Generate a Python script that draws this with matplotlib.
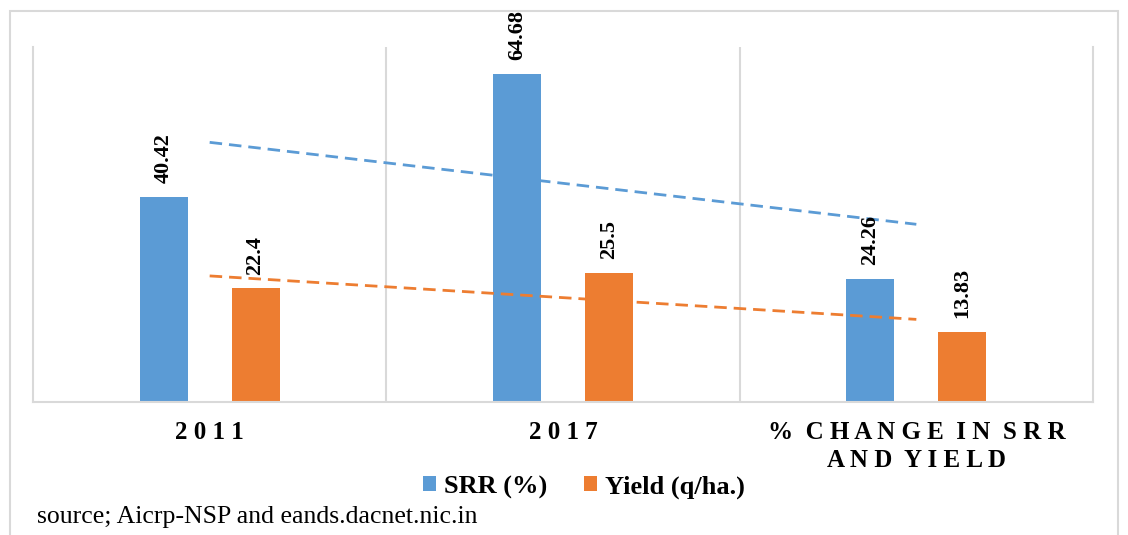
import numpy as np
import matplotlib.pyplot as plt
from matplotlib.patches import Rectangle

categories = ["2011", "2017", "% CHANGE IN SRR\nAND YIELD"]
srr = [40.42, 64.68, 24.26]
yld = [22.4, 25.5, 13.83]
series_names = ["SRR (%)", "Yield (q/ha.)"]
source_note = "source; Aicrp-NSP and eands.dacnet.nic.in"

blue = "#5B9BD5"
orange = "#ED7D31"
grid_col = "#D9D9D9"

plt.rcParams['font.family'] = ['Liberation Serif', 'DejaVu Serif']


def spaced(text):
    # letter-spaced look of the category labels
    lines = []
    for line in text.split("\n"):
        words = [" ".join(w) for w in line.split(" ")]
        lines.append("  ".join(words))
    return "\n".join(lines)


fig = plt.figure(figsize=(11.28, 5.35), dpi=100)
ax = fig.add_axes([33 / 1128, 133 / 535, 1060 / 1128, 355 / 535])

x = np.arange(len(categories))
w = 0.136
off = 0.13
b1 = ax.bar(x - off, srr, w, color=blue, label=series_names[0])
b2 = ax.bar(x + off, yld, w, color=orange, label=series_names[1])

for bars, vals in ((b1, srr), (b2, yld)):
    for rect, v in zip(bars, vals):
        ax.annotate(str(v), (rect.get_x() + rect.get_width() / 2, rect.get_height()),
                    xytext=(0, 10), textcoords="offset points", rotation=90,
                    ha="center", va="bottom", fontsize=16, fontweight="bold")

# linear trendlines, as in the spreadsheet chart
for vals, col in ((srr, blue), (yld, orange)):
    k, c = np.polyfit(x, vals, 1)
    ax.plot([x[0], x[-1]], [k * x[0] + c, k * x[-1] + c], color=col,
            lw=2, linestyle=(0, (4.5, 2.5)))

ax.set_xlim(-0.5, 2.5)
ax.set_ylim(0, 70)
ax.set_yticks([])
ax.set_xticks(x)
ax.set_xticklabels([spaced(c) for c in categories], fontsize=18, fontweight="bold",
                   linespacing=1.25)
ax.tick_params(axis="x", length=0, pad=14)
ax.set_xticks([0.5, 1.5], minor=True)
ax.tick_params(axis="x", which="minor", length=0)
ax.grid(True, which="minor", axis="x", color=grid_col, lw=1.5)
ax.spines["top"].set_visible(False)
for s in ("left", "right", "bottom"):
    ax.spines[s].set_color(grid_col)
    ax.spines[s].set_linewidth(1.5)

leg = fig.legend(handles=[b1, b2], labels=series_names, loc="center",
                 bbox_to_anchor=(584 / 1128, 1 - 487 / 535), ncol=2, frameon=False,
                 prop={"weight": "bold", "size": 19}, handlelength=0.5, handleheight=0.5,
                 handletextpad=0.3, columnspacing=1.4)

fig.text(37 / 1128, 1 - 517 / 535, source_note, fontsize=18.5, va="center", ha="left")

fig.patches.append(Rectangle((10 / 1128, -0.05), 1108 / 1128, 1.05 - 11 / 535,
                             transform=fig.transFigure, fill=False,
                             edgecolor=grid_col, lw=1.5))

fig.savefig("out.png", dpi=100)
